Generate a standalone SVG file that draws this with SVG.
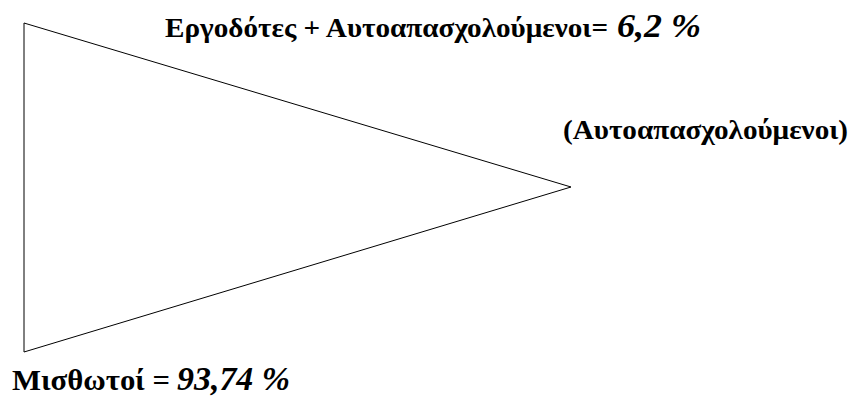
<svg xmlns="http://www.w3.org/2000/svg" width="853" height="401" viewBox="0 0 853 401">
<style>
text{font-family:'Liberation Serif','Times New Roman',serif;font-weight:700;fill:#000}
.i{font-style:italic}
</style>
<rect width="853" height="401" fill="#fff"/>
<g id="connectors">
<polygon id="triangle" points="24,23 571,187 24,352" fill="none" stroke="#000" stroke-width="1"/>
</g>
<g id="top-label">
<text x="165" y="37" font-size="28" textLength="443" lengthAdjust="spacingAndGlyphs">Εργοδότες + Αυτοαπασχολούμενοι=</text>
<text class="i" x="617" y="37" font-size="34" textLength="84" lengthAdjust="spacingAndGlyphs">6,2 %</text>
</g>
<g id="right-label">
<text x="563" y="139" font-size="28" textLength="285" lengthAdjust="spacingAndGlyphs">(Αυτοαπασχολούμενοι)</text>
</g>
<g id="bottom-label">
<text x="12" y="390" font-size="29" textLength="158" lengthAdjust="spacingAndGlyphs">Μισθωτοί =</text>
<text class="i" x="177" y="390" font-size="34" textLength="113" lengthAdjust="spacingAndGlyphs">93,74 %</text>
</g>
</svg>
